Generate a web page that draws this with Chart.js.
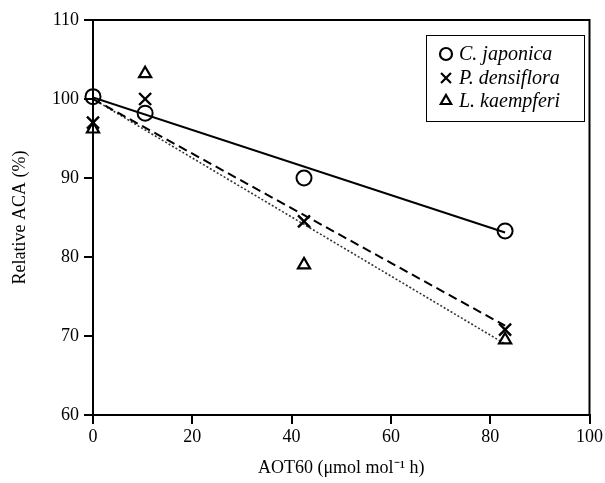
<!DOCTYPE html>
<html><head><meta charset="utf-8">
<script src="https://cdn.jsdelivr.net/npm/chart.js@4.4.1/dist/chart.umd.min.js"></script>
<style>html,body{margin:0;padding:0;background:#fff}#w{width:605px;height:483px}</style>
</head><body><div id="w"><canvas id="c"></canvas></div>
<script>
const xVals = [0, 10.5, 42.5, 83];
const japonica = [100.3, 98.2, 90.0, 83.3];
const densiflora = [97.0, 100.0, 84.5, 70.8];
const kaempferi = [96.2, 103.2, 79.0, 69.5];
const fitX = [0, 83];
const fitJaponica = [100.2, 83.1];
const fitDensiflora = [100.0, 71.3];
const fitKaempferi = [100.0, 69.0];
const names = ['C. japonica', 'P. densiflora', 'L. kaempferi'];
const xTicks = [0, 20, 40, 60, 80, 100];
const yTicks = [60, 70, 80, 90, 100, 110];

const pts = (xs, ys) => xs.map((x, i) => ({x, y: ys[i]}));
const styles = ['circle', 'crossRot', 'triangle'];

const frame = {
  id: 'frame',
  beforeDatasetsDraw(chart) {
    const {ctx, chartArea: a} = chart;
    ctx.save();
    ctx.strokeStyle = '#000'; ctx.lineWidth = 2;
    ctx.strokeRect(a.left, a.top, a.right - a.left, a.bottom - a.top);
    ctx.restore();
  },
  afterDatasetsDraw(chart) {
    const {ctx} = chart;
    ctx.save();
    const bx = 426, by = 35, bw = 158, bh = 86;
    ctx.lineWidth = 1;
    ctx.strokeStyle = '#000';
    ctx.fillStyle = '#fff';
    ctx.fillRect(bx, by, bw, bh);
    ctx.strokeRect(bx + 0.5, by + 0.5, bw, bh);
    ctx.font = 'italic 20px "Liberation Serif"';
    ctx.textBaseline = 'middle';
    const rows = [54, 78, 101];
    const radii = [6, 7, 6];
    names.forEach((n, i) => {
      ctx.fillStyle = 'rgba(0,0,0,0)';
      ctx.strokeStyle = '#000';
      ctx.lineWidth = 2.2;
      Chart.helpers.drawPoint(ctx, {pointStyle: styles[i], radius: radii[i], borderWidth: 2.2}, 446, rows[i]);
      ctx.fillStyle = '#000';
      ctx.fillText(n, 459, rows[i] + 1);
    });
    ctx.restore();
  }
};

new Chart(document.getElementById('c'), {
  type: 'scatter',
  data: {
    datasets: [
      {label: names[0], data: pts(xVals, japonica), pointStyle: 'circle', pointRadius: 7.5, borderColor: '#000', backgroundColor: 'rgba(0,0,0,0)', pointBorderWidth: 2, clip: false},
      {label: names[1], data: pts(xVals, densiflora), pointStyle: 'crossRot', pointRadius: 8.5, borderColor: '#000', backgroundColor: '#000', pointBorderWidth: 2.4, clip: false},
      {label: names[2], data: pts(xVals, kaempferi), pointStyle: 'triangle', pointRadius: 7, borderColor: '#000', backgroundColor: 'rgba(0,0,0,0)', pointBorderWidth: 2.2, clip: false},
      {label: 'fit1', data: pts(fitX, fitJaponica), showLine: true, pointRadius: 0, borderColor: '#000', borderWidth: 2},
      {label: 'fit2', data: pts(fitX, fitDensiflora), showLine: true, pointRadius: 0, borderColor: '#000', borderWidth: 2, borderDash: [9, 5]},
      {label: 'fit3', data: pts(fitX, fitKaempferi), showLine: true, pointRadius: 0, borderColor: '#333', borderWidth: 1.6, borderDash: [2, 2]}
    ]
  },
  options: {
    responsive: true, maintainAspectRatio: false, animation: false,
    layout: {padding: {left: 0, right: 14, top: 20, bottom: 0}},
    plugins: {legend: {display: false}, tooltip: {enabled: false}},
    scales: {
      x: {
        type: 'linear', min: 0, max: 100,
        afterBuildTicks: s => { s.ticks = xTicks.map(v => ({value: v})); },
        afterFit: s => { s.height = 68; },
        grid: {drawOnChartArea: false, color: '#000', lineWidth: 2, tickLength: 9},
        border: {color: '#000', width: 2},
        ticks: {color: '#000', font: {family: 'Liberation Serif', size: 18}, padding: 2, maxRotation: 0},
        title: {display: true, text: 'AOT60 (μmol mol⁻¹ h)', color: '#000', font: {family: 'Liberation Serif', size: 18}, padding: {top: 8}}
      },
      y: {
        type: 'linear', min: 60, max: 110,
        afterBuildTicks: s => { s.ticks = yTicks.map(v => ({value: v})); },
        afterFit: s => { s.width = 93; },
        grid: {drawOnChartArea: false, color: '#000', lineWidth: 2, tickLength: 9},
        border: {color: '#000', width: 2},
        ticks: {color: '#000', font: {family: 'Liberation Serif', size: 18}, padding: 5},
        title: {display: true, text: 'Relative ACA (%)', color: '#000', font: {family: 'Liberation Serif', size: 18}, padding: {top: 9, bottom: 0}}
      }
    }
  },
  plugins: [frame]
});
</script></body></html>
